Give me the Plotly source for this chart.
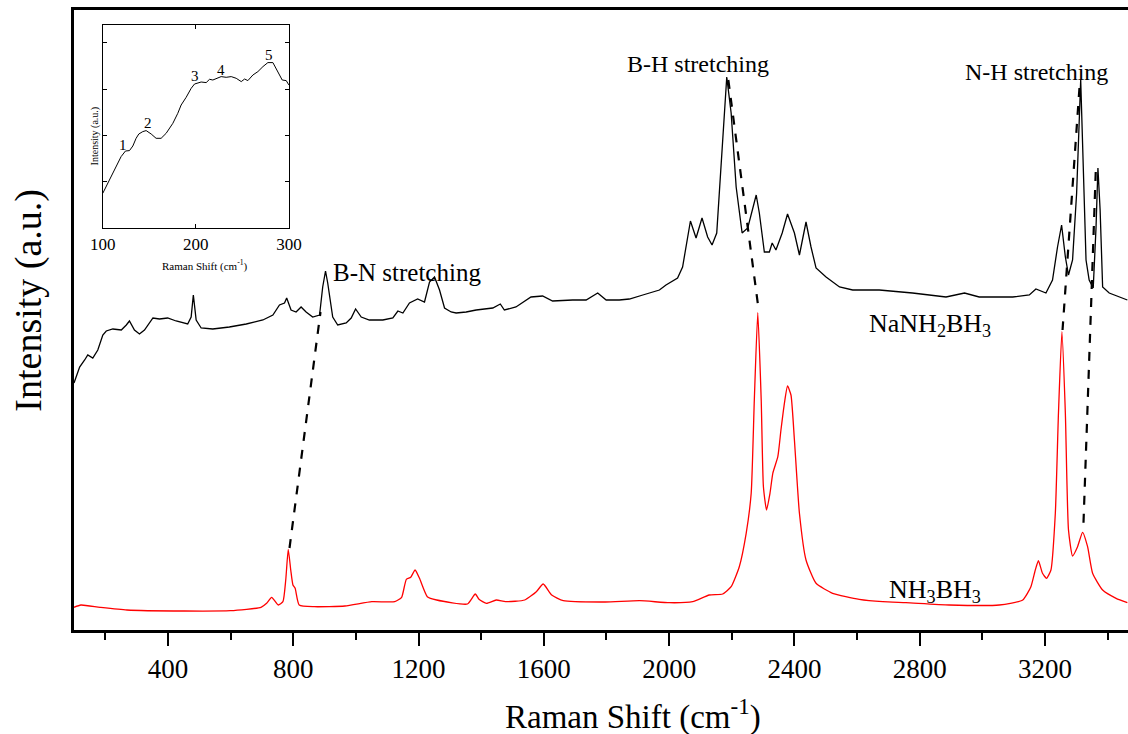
import plotly.graph_objects as go

# NaNH2BH3 (black) spectrum: Raman shift (cm^-1), intensity (a.u.)
na_x = [100, 118, 134, 144, 160, 176, 192, 203, 224, 251, 267, 277, 293, 309, 325, 352, 373, 399, 426, 463,
        474, 481, 490, 506, 543, 596, 650, 703, 735, 756, 772, 779, 793, 809, 825, 841, 862, 884, 894, 903,
        910, 926, 942, 969, 985, 999, 1017, 1043, 1086, 1118, 1134, 1150, 1171, 1197, 1219, 1235, 1251, 1267,
        1283, 1304, 1320, 1352, 1384, 1437, 1461, 1474, 1511, 1559, 1596, 1628, 1692, 1735, 1772, 1799, 1841,
        1873, 1916, 1969, 1990, 2027, 2043, 2054, 2068, 2086, 2105, 2123, 2137, 2152, 2166, 2184, 2198, 2214,
        2233, 2251, 2278, 2288, 2304, 2320, 2329, 2341, 2361, 2378, 2400, 2416, 2437, 2453, 2469, 2501, 2544,
        2586, 2671, 2777, 2884, 2943, 2990, 3097, 3150, 3171, 3203, 3224, 3240, 3253, 3265, 3275, 3288, 3301,
        3314, 3322, 3331, 3341, 3354, 3363, 3369, 3376, 3384, 3405, 3463]
na_y = [247, 263, 270, 275, 272, 280, 295, 299, 301, 300, 305, 309, 300, 296, 300, 312, 311, 312, 309, 306,
        313, 335, 310, 302, 301, 303, 306, 310, 315, 325, 327, 332, 320, 318, 323, 318, 313, 315, 343, 359,
        347, 313, 305, 307, 312, 321, 313, 310, 310, 312, 319, 317, 327, 331, 328, 348, 353, 340,
        322, 318, 317, 318, 320, 322, 326, 320, 323, 333, 334, 329, 330, 330, 337, 330, 330,
        331, 335, 340, 345, 352, 363, 383, 409, 392, 412, 393, 385, 397, 470, 553, 517, 443,
        397, 402, 435, 417, 378, 378, 387, 380, 397, 416, 397, 375, 408, 383, 362, 353, 343,
        340, 340, 337, 333, 337, 333, 333, 335, 341, 337, 350, 383, 405, 373, 355, 370, 437,
        550, 470, 370, 350, 342, 403, 462, 420, 343, 337, 330]

# NH3BH3 (red) spectrum
nh_x = [100, 122, 183, 269, 452, 599, 697, 715, 731, 752, 767, 776, 784, 792, 799, 806, 819, 867, 965, 1051,
        1124, 1146, 1161, 1175, 1189, 1203, 1228, 1258, 1356, 1381, 1393, 1417, 1448, 1478, 1539, 1576, 1598,
        1625, 1662, 1796, 1906, 2001, 2075, 2128, 2171, 2198, 2224, 2246, 2262, 2272, 2283, 2294, 2301, 2311,
        2322, 2331, 2347, 2357, 2368, 2378, 2389, 2400, 2416, 2437, 2469, 2522, 2607, 2682, 2756, 2894, 3054,
        3129, 3155, 3169, 3179, 3192, 3205, 3219, 3233, 3243, 3254, 3265, 3275, 3288, 3304, 3320, 3336, 3352,
        3384, 3427, 3463]
nh_y = [22.7, 25, 22.7, 20, 19, 19.3, 22.7, 26.7, 32.7, 25, 28.3, 50, 80.7, 60, 45, 41.7, 25, 23.3, 24, 28.3,
        28.3, 32.7, 50.7, 52.7, 60, 51.7, 33.3, 30, 26, 36, 30.7, 26.7, 30, 28.3, 30, 38.3, 46,
        35, 29.3, 28, 29.3, 27.3, 28.3, 35, 36, 43.3, 63.3, 96.7, 136.7, 230, 317.3, 230, 143.3, 120,
        136.7, 156.7, 173.3, 200, 226.7, 244, 235, 190, 116.7, 70, 46.7, 36.7, 30.7, 28.3, 27.3, 25, 25,
        30, 43.3, 60, 69.3, 56.7, 51.7, 60, 116.7, 216.7, 298.3, 216.7, 100, 74, 83.3, 97.7, 83.3, 56.7,
        40, 31.7, 27.3]

# Inset (low-frequency region)
ins_x = [100, 107.2, 114.3, 119.7, 124.4, 128.7, 132.3, 135.8, 138.7, 143, 146.6, 152, 157.3, 162.7, 168.1,
         175.3, 180.6, 184.2, 189.6, 195, 198.6, 205.7, 211.1, 214.7, 218.3, 221.9, 227.2, 232.6, 238, 243.4,
         248.8, 252.4, 255.9, 261.3, 266.7, 272.1, 277.4, 282.8, 288.2, 292.8, 297.1, 300]
ins_y = [35, 48.3, 61.7, 71.7, 77.3, 77.7, 82.3, 90, 94.3, 96.7, 97.7, 94.3, 90, 90, 95,
         105, 115, 123.3, 131, 140, 144.3, 146.3, 145.7, 149, 148.3, 150, 151.7, 151, 151.7, 150,
         146.7, 149.3, 147.7, 153.3, 156.7, 161.7, 165.7, 165.7, 156.7, 148.3, 147.7, 143.3]
ins_labels = ["1", "2", "3", "4", "5"]
ins_label_x = [122, 148.4, 199.6, 227.2, 278.5]
ins_label_y = [83.3, 105, 152.3, 158.3, 173.3]

# Dashed guide lines (x0, y0, x1, y1)
guides = [(788, 82, 887, 318), (2189, 550, 2285, 322), (3310, 542, 3256, 300), (3362, 458, 3322, 99)]

xticks = [400, 800, 1200, 1600, 2000, 2400, 2800, 3200]
FONT = "Liberation Serif"

fig = go.Figure()
fig.add_trace(go.Scatter(x=na_x, y=na_y, mode="lines", line=dict(color="black", width=1.3),
                         showlegend=False))
fig.add_trace(go.Scatter(x=nh_x, y=nh_y, mode="lines",
                         line=dict(color="red", width=1.3, shape="spline", smoothing=0.5),
                         showlegend=False))
for x0, y0, x1, y1 in guides:
    fig.add_trace(go.Scatter(x=[x0, x1], y=[y0, y1], mode="lines",
                             line=dict(color="black", width=2.2, dash="dash"), showlegend=False))
fig.add_trace(go.Scatter(x=ins_x, y=ins_y, mode="lines", line=dict(color="black", width=1),
                         xaxis="x2", yaxis="y2", showlegend=False))

ann = [
    dict(x=922, y=358, text="B-N stretching", font=dict(size=25)),
    dict(x=1860, y=566, text="B-H stretching", font=dict(size=24)),
    dict(x=2939, y=558, text="N-H stretching", font=dict(size=24)),
    dict(x=2633, y=305, text="NaNH<sub>2</sub>BH<sub>3</sub>", font=dict(size=26)),
    dict(x=2697, y=39, text="NH<sub>3</sub>BH<sub>3</sub>", font=dict(size=26)),
]
annotations = []
for a in ann:
    a.update(xref="x", yref="y", showarrow=False, xanchor="left", yanchor="middle")
    a["font"].update(family=FONT, color="black")
    annotations.append(a)
for t, lx, ly in zip(ins_labels, ins_label_x, ins_label_y):
    annotations.append(dict(x=lx, y=ly, text=t, xref="x2", yref="y2", showarrow=False,
                            xanchor="center", yanchor="middle",
                            font=dict(family=FONT, size=15, color="black")))
annotations += [
    dict(x=0.530, y=-0.136, xref="paper", yref="paper", text="Raman Shift (cm<sup>-1</sup>)",
         xanchor="center", yanchor="middle",
         showarrow=False, font=dict(family=FONT, size=33, color="black")),
    dict(x=-0.0432, y=0.532, xref="paper", yref="paper", text="Intensity (a.u.)", textangle=-90,
         xanchor="center", yanchor="middle",
         showarrow=False, font=dict(family=FONT, size=38, color="black")),
    dict(x=0.1245, y=0.5887, xref="paper", yref="paper", text="Raman Shift (cm<sup>-1</sup>)",
         xanchor="center", yanchor="middle",
         showarrow=False, font=dict(family=FONT, size=11, color="black")),
    dict(x=0.0195, y=0.797, xref="paper", yref="paper", text="Intensity (a.u.)", textangle=-90,
         xanchor="center", yanchor="middle",
         showarrow=False, font=dict(family=FONT, size=10, color="black")),
]

fig.update_layout(
    width=1128, height=734,
    margin=dict(l=74, r=0, t=10, b=104, autoexpand=False),
    paper_bgcolor="white", plot_bgcolor="white",
    font=dict(family=FONT, color="black"),
    annotations=annotations,
    xaxis=dict(range=[100, 3465], tickvals=xticks, ticks="outside", ticklen=13, tickwidth=2.2,
               tickcolor="black", showline=True, linewidth=2.5, linecolor="black", mirror=True,
               showgrid=False, zeroline=False, automargin=False, tickfont=dict(family=FONT, size=27),
               minor=dict(dtick=200, tick0=0, ticks="outside", ticklen=7, tickwidth=2.2,
                          tickcolor="black", showgrid=False)),
    yaxis=dict(range=[0, 620], showticklabels=False, ticks="", showline=True, linewidth=2.5,
               linecolor="black", mirror=False, showgrid=False, zeroline=False, automargin=False),
    xaxis2=dict(domain=[0.0273, 0.2039], anchor="y2", range=[100, 300], tickvals=[100, 200, 300],
                ticks="inside", ticklen=4, tickwidth=1, tickcolor="black", showline=True,
                linewidth=1, linecolor="black", mirror="ticks", showgrid=False, zeroline=False,
                automargin=False, tickfont=dict(family=FONT, size=17)),
    yaxis2=dict(domain=[0.6479, 0.9758], anchor="x2", range=[0, 203.3], tick0=0, dtick=46.4,
                showticklabels=False, ticks="inside", ticklen=4, tickwidth=1, tickcolor="black",
                showline=True, linewidth=1, linecolor="black", mirror="ticks", showgrid=False,
                zeroline=False, automargin=False),
)

fig.write_html("out.html")
